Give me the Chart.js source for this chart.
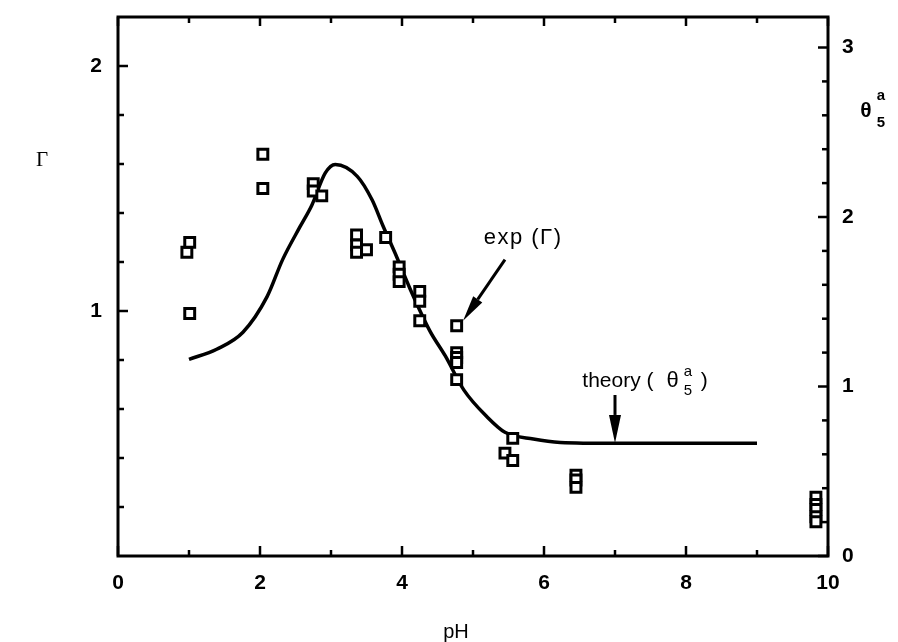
<!DOCTYPE html>
<html>
<head>
<meta charset="utf-8">
<script src="https://cdn.jsdelivr.net/npm/chart.js@4.4.1/dist/chart.umd.min.js"></script>
<style>
  html, body { margin: 0; padding: 0; background: #ffffff; }
  canvas { display: block; }
</style>
</head>
<body>
<canvas id="c" width="898" height="642"></canvas>
<script>
// ---- data ----
const expPH = [0.97, 1.01, 1.01, 2.04, 2.04, 2.75, 2.75, 2.87, 3.36, 3.36, 3.36, 3.50, 3.77, 3.96, 3.96, 3.96, 4.25, 4.25, 4.25, 4.77, 4.77, 4.77, 4.77, 4.77, 5.45, 5.56, 5.56, 6.45, 6.45, 6.45, 9.83, 9.83, 9.83, 9.83, 9.83];
const expGamma = [1.24, 1.28, 0.99, 1.64, 1.50, 1.52, 1.49, 1.47, 1.31, 1.27, 1.24, 1.25, 1.30, 1.18, 1.15, 1.12, 1.08, 1.04, 0.96, 0.94, 0.83, 0.81, 0.79, 0.72, 0.42, 0.48, 0.39, 0.33, 0.31, 0.28, 0.24, 0.21, 0.19, 0.16, 0.14];

const theoryPH = [1.00, 1.39, 1.76, 2.10, 2.32, 2.56, 2.73, 2.92, 3.06, 3.37, 3.58, 3.73, 3.93, 4.11, 4.39, 4.61, 4.87, 5.20, 5.45, 5.85, 6.23, 7.00, 8.00, 9.00];
const theoryTheta = [1.16, 1.22, 1.32, 1.53, 1.75, 1.94, 2.07, 2.26, 2.31, 2.24, 2.10, 1.95, 1.76, 1.58, 1.33, 1.18, 0.98, 0.82, 0.73, 0.69, 0.67, 0.665, 0.665, 0.665];

const xMajorTicks = [0, 2, 4, 6, 8, 10];
const xMinorTicks = [1, 3, 5, 7, 9];
const gammaTickLabels = [1, 2];
const gammaMinorTicks = [0.2, 0.4, 0.6, 0.8, 1.2, 1.4, 1.6, 1.8];
const thetaTickLabels = [0, 1, 2, 3];
const thetaMinorTicks = [0.2, 0.4, 0.6, 0.8, 1.2, 1.4, 1.6, 1.8, 2.2, 2.4, 2.6, 2.8];

const xLabel = 'pH';
const leftLabel = 'Γ';
const expText = 'exp (Γ)';
const theoryText = 'theory (';

const SANS = '"Liberation Sans", Arial, Helvetica, sans-serif';
const SERIF = '"Liberation Serif", "Times New Roman", serif';

function arrow(ctx, x1, y1, x2, y2, headLen, headHalf) {
  const ang = Math.atan2(y2 - y1, x2 - x1);
  const bx = x2 - headLen * Math.cos(ang), by = y2 - headLen * Math.sin(ang);
  ctx.beginPath();
  ctx.moveTo(x1, y1);
  ctx.lineTo(bx, by);
  ctx.stroke();
  ctx.beginPath();
  ctx.moveTo(x2, y2);
  ctx.lineTo(bx + headHalf * Math.sin(ang), by - headHalf * Math.cos(ang));
  ctx.lineTo(bx - headHalf * Math.sin(ang), by + headHalf * Math.cos(ang));
  ctx.closePath();
  ctx.fill();
}

const framePlugin = {
  id: 'framePlugin',
  afterDatasetsDraw(chart) {
    const ctx = chart.ctx;
    const a = chart.chartArea;
    const sx = chart.scales.x, sy = chart.scales.y, sy2 = chart.scales.y2;
    ctx.save();
    ctx.strokeStyle = '#000';
    ctx.fillStyle = '#000';
    ctx.lineCap = 'butt';
    // frame
    ctx.lineWidth = 3;
    ctx.strokeRect(a.left, a.top, a.right - a.left, a.bottom - a.top);
    // ticks
    ctx.lineWidth = 2.5;
    const tick = (x1, y1, x2, y2) => { ctx.beginPath(); ctx.moveTo(x1, y1); ctx.lineTo(x2, y2); ctx.stroke(); };
    xMajorTicks.forEach(v => { const p = sx.getPixelForValue(v); tick(p, a.bottom, p, a.bottom - 10); tick(p, a.top, p, a.top + 9); });
    xMinorTicks.forEach(v => { const p = sx.getPixelForValue(v); tick(p, a.bottom, p, a.bottom - 6); tick(p, a.top, p, a.top + 6); });
    gammaTickLabels.forEach(v => { const p = sy.getPixelForValue(v); tick(a.left, p, a.left + 10, p); });
    gammaMinorTicks.forEach(v => { const p = sy.getPixelForValue(v); tick(a.left, p, a.left + 6, p); });
    thetaTickLabels.forEach(v => { const p = sy2.getPixelForValue(v); tick(a.right, p, a.right - 10, p); });
    thetaMinorTicks.forEach(v => { const p = sy2.getPixelForValue(v); tick(a.right, p, a.right - 6, p); });

    // axis titles
    ctx.textBaseline = 'middle';
    ctx.textAlign = 'center';
    ctx.font = '21px ' + SERIF;
    ctx.fillText(leftLabel, 42, 160);
    ctx.font = '20px ' + SANS;
    ctx.fillText(xLabel, 456, 632);
    // right title theta_5^a
    ctx.font = 'bold 21px ' + SANS;
    ctx.fillText('θ', 866, 111);
    ctx.font = 'bold 15px ' + SANS;
    ctx.fillText('a', 881, 96);
    ctx.fillText('5', 881, 123);

    // annotation: exp (Γ)
    ctx.textAlign = 'left';
    ctx.font = '22px ' + SANS;
    try { ctx.letterSpacing = '1.5px'; } catch (e) {}
    ctx.fillText(expText, sx.getPixelForValue(5.15), sy.getPixelForValue(1.30));
    try { ctx.letterSpacing = '0px'; } catch (e) {}
    ctx.lineWidth = 3;
    arrow(ctx, sx.getPixelForValue(5.45), sy.getPixelForValue(1.21), sx.getPixelForValue(4.86), sy.getPixelForValue(0.96), 26, 5.5);

    // annotation: theory (θ5a)
    const tx = sx.getPixelForValue(6.54), ty = sy2.getPixelForValue(1.03);
    ctx.font = '21px ' + SANS;
    ctx.fillText(theoryText, tx, ty);
    const w = ctx.measureText(theoryText).width;
    const thx = tx + w + 13;
    ctx.font = '22px ' + SANS;
    ctx.fillText('θ', thx, ty);
    const tw = ctx.measureText('θ').width;
    ctx.font = '15px ' + SANS;
    ctx.fillText('a', thx + tw + 5, ty - 10);
    ctx.fillText('5', thx + tw + 5, ty + 9);
    ctx.font = '21px ' + SANS;
    ctx.fillText(')', thx + tw + 22, ty);
    arrow(ctx, sx.getPixelForValue(7.0), sy2.getPixelForValue(0.95), sx.getPixelForValue(7.0), sy2.getPixelForValue(0.667), 28, 6);
    ctx.restore();
  }
};

const tickFont = { family: SANS, size: 21, weight: 'bold' };
const noPad = s => { s.paddingTop = 0; s.paddingBottom = 0; s.paddingLeft = 0; s.paddingRight = 0; };

new Chart(document.getElementById('c'), {
  type: 'scatter',
  data: {
    datasets: [
      {
        label: 'exp (Γ)',
        data: expPH.map((x, i) => ({ x, y: expGamma[i] })),
        yAxisID: 'y',
        pointStyle: 'rect',
        pointRadius: 7,
        pointBorderWidth: 3,
        pointBackgroundColor: '#ffffff',
        pointBorderColor: '#000000',
        showLine: false
      },
      {
        type: 'line',
        label: 'theory',
        data: theoryPH.map((x, i) => ({ x, y: theoryTheta[i] })),
        yAxisID: 'y2',
        borderColor: '#000000',
        borderWidth: 3.5,
        pointRadius: 0,
        fill: false,
        cubicInterpolationMode: 'monotone'
      }
    ]
  },
  options: {
    responsive: false,
    animation: false,
    devicePixelRatio: 1,
    layout: { padding: { top: 17, left: 0, right: 0, bottom: 0 } },
    plugins: { legend: { display: false }, tooltip: { enabled: false } },
    scales: {
      x: {
        type: 'linear', position: 'bottom', min: 0, max: 10,
        grid: { display: false, drawTicks: false },
        border: { display: false },
        afterBuildTicks: s => { s.ticks = xMajorTicks.map(v => ({ value: v })); },
        ticks: { font: tickFont, color: '#000', padding: 15, maxRotation: 0 },
        afterFit: s => { s.height = 86; noPad(s); }
      },
      y: {
        type: 'linear', position: 'left', min: 0, max: 2.2,
        grid: { display: false, drawTicks: false },
        border: { display: false },
        afterBuildTicks: s => { s.ticks = gammaTickLabels.map(v => ({ value: v })); },
        ticks: { font: tickFont, color: '#000', padding: 16 },
        afterFit: s => { s.width = 118; noPad(s); }
      },
      y2: {
        type: 'linear', position: 'right', min: 0, max: 3.18,
        grid: { display: false, drawTicks: false },
        border: { display: false },
        afterBuildTicks: s => { s.ticks = thetaTickLabels.map(v => ({ value: v })); },
        ticks: { font: tickFont, color: '#000', padding: 14 },
        afterFit: s => { s.width = 70; noPad(s); }
      }
    }
  },
  plugins: [framePlugin]
});
</script>
</body>
</html>
